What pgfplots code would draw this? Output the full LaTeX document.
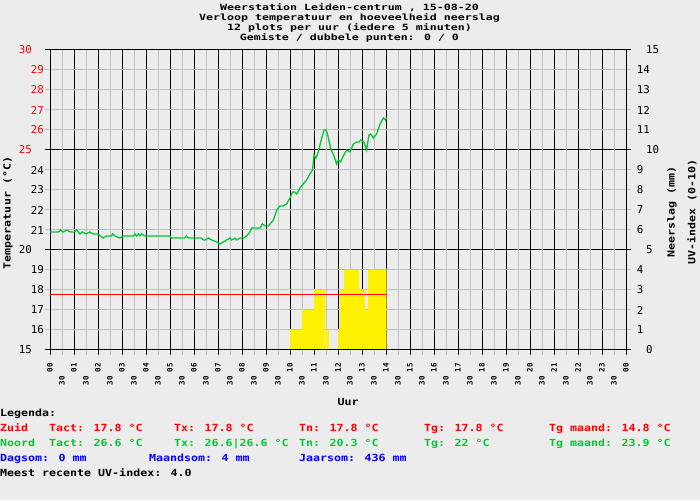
\documentclass[border=0pt]{standalone}
\usepackage{fontspec}
\usepackage{pgfplots}
\pgfplotsset{compat=1.18}
\setmainfont{DejaVu Sans Mono}
\newfontfamily\widea[FakeStretch=1.35]{DejaVu Sans Mono}
\newfontfamily\wideb[FakeStretch=1.187]{DejaVu Sans Mono}
\definecolor{bg}{RGB}{236,236,236}
\definecolor{gridgray}{RGB}{192,192,192}
\definecolor{tgreen}{RGB}{0,200,50}
\definecolor{tblue}{RGB}{0,0,255}
\definecolor{tred}{RGB}{255,0,0}
\newcommand\tf{\widea\fontsize{8.6}{10}\selectfont\bfseries}
\newcommand\lf{\wideb\fontsize{9.8}{11}\selectfont\bfseries}
\newcommand\smf{\fontsize{7.5}{8}\selectfont\bfseries}
\newcommand\bgf{\fontsize{10.8}{11}\selectfont}
\newcommand\hl{30\kern13pt}
\newcommand\bl{\kern9.3pt}
\newcommand\br{\kern12pt}
\begin{document}
\begin{tikzpicture}[x=1pt,y=1pt]
\fill[bg] (0,0) rectangle (700,500);
\begin{axis}[
 at={(50pt,150pt)}, anchor=south west, width=576pt, height=300pt, scale only axis,
 xmin=0,xmax=24,ymin=0,ymax=15,
 axis line style={black,line width=1pt},
 major tick style={black,line width=1pt},
 major tick length=5pt, tick align=outside,
 grid=major, major grid style={black,line width=1pt},
 xtick={0,...,24}, xtick pos=left,
 xticklabels={00,01,02,03,04,05,06,07,08,09,10,11,12,13,14,15,16,17,18,19,20,21,22,23,00},
 xticklabel style={rotate=90,anchor=east,inner sep=0pt,font=\smf},
 xticklabel shift=8pt,
 extra x ticks={0.5,1.5,2.5,3.5,4.5,5.5,6.5,7.5,8.5,9.5,10.5,11.5,12.5,13.5,14.5,15.5,16.5,17.5,18.5,19.5,20.5,21.5,22.5,23.5},
 extra x tick labels={\hl,\hl,\hl,\hl,\hl,\hl,\hl,\hl,\hl,\hl,\hl,\hl,\hl,\hl,\hl,\hl,\hl,\hl,\hl,\hl,\hl,\hl,\hl,\hl},
 extra x tick style={grid=major, major grid style={gridgray,line width=1pt}, major tick style={gridgray,line width=1pt}},
 ytick={0,5,10,15}, ytick pos=both, yticklabel pos=right,
 yticklabels={\bl 0,\bl 5,\bl 10,\bl 15},
 yticklabel style={anchor=west,inner sep=0pt,font=\bgf},
 yticklabel shift=5.7pt,
 extra y ticks={1,2,3,4,6,7,8,9,11,12,13,14},
 extra y tick labels={1,2,3,4,6,7,8,9,11,12,13,14},
 extra y tick style={grid=major, major grid style={gridgray,line width=1pt}, major tick style={gridgray,line width=1pt}, tick label style={font=\smf}},
]
\addplot[fill=yellow, draw=none, const plot mark left] coordinates {
(10.0,1) (10.49,2) (11.0,3) (11.46,0) (11.5,1) (11.62,0) (12.0,1) (12.08,3) (12.25,4) (12.875,3) (13.125,2) (13.25,4) (14.03,4)} \closedcycle;
\end{axis}
\begin{axis}[
 at={(50pt,150pt)}, anchor=south west, width=576pt, height=300pt, scale only axis,
 xmin=0,xmax=24,ymin=15,ymax=30,
 axis line style={black,line width=1pt},
 xtick=\empty, major tick length=0pt, tick align=outside,
 ytick={15,20,25,30}, ytick pos=left, yticklabel pos=left,
 yticklabels={15\br,20\br,\textcolor{tred}{25}\br,\textcolor{tred}{30}\br},
 yticklabel style={anchor=east,inner sep=0pt,font=\bgf},
 yticklabel shift=6pt,
 extra y ticks={16,17,18,19,21,22,23,24,26,27,28,29},
 extra y tick labels={16,17,18,19,21,22,23,24,\textcolor{tred}{26},\textcolor{tred}{27},\textcolor{tred}{28},\textcolor{tred}{29}},
 extra y tick style={tick label style={font=\smf}},
]
\addplot[draw=tred, color=tred, line width=1.3pt, mark=none] coordinates {(0,17.775) (14.03,17.775)};
\addplot[draw=tgreen, line width=1.3pt, mark=none] coordinates {
(0.00,20.9) (0.35,20.9) (0.44,21.0) (0.55,20.9) (0.70,21.0) (0.85,20.9) (1.00,20.9) (1.10,21.0)
(1.25,20.8) (1.35,20.9) (1.50,20.8) (1.65,20.9) (1.80,20.8) (2.00,20.8) (2.22,20.6) (2.36,20.7)
(2.55,20.7) (2.61,20.8) (2.71,20.7) (2.92,20.6) (3.06,20.7) (3.47,20.7) (3.54,20.8) (3.61,20.7)
(3.68,20.8) (3.75,20.7) (3.82,20.8) (3.96,20.7) (5.00,20.7) (5.05,20.6) (5.60,20.6) (5.69,20.7)
(5.76,20.6) (6.30,20.6) (6.39,20.5) (6.46,20.5) (6.60,20.6) (6.74,20.5) (6.94,20.4) (7.08,20.3)
(7.22,20.4) (7.36,20.5) (7.50,20.6) (7.57,20.5) (7.71,20.6) (7.78,20.5) (7.92,20.6) (8.06,20.6)
(8.19,20.7) (8.33,20.9) (8.40,21.1) (8.75,21.1) (8.85,21.3) (8.96,21.2) (9.10,21.2) (9.31,21.5)
(9.45,22.0) (9.58,22.2) (9.72,22.2) (9.86,22.3) (10.00,22.6) (10.11,22.9) (10.20,22.9) (10.28,22.8)
(10.42,23.1) (10.55,23.3) (10.69,23.5) (10.83,23.8) (10.94,24.0) (11.00,24.75) (11.08,24.6) (11.18,24.9)
(11.32,25.6) (11.42,26.0) (11.50,26.0) (11.56,25.8) (11.69,25.1) (11.83,24.7) (11.94,24.3) (12.01,24.5)
(12.11,24.4) (12.22,24.7) (12.36,25.0) (12.50,24.9) (12.64,25.3) (12.78,25.4) (12.89,25.4) (12.94,25.5)
(13.08,25.4) (13.19,25.0) (13.29,25.75) (13.36,25.8) (13.47,25.6) (13.61,25.8) (13.75,26.3) (13.89,26.6)
(13.97,26.5) (14.03,26.6)};
\end{axis}
\begin{scope}[every node/.style={inner sep=0pt}]
\node[anchor=base,font=\tf] at (349.5,489.8) {Weerstation Leiden-centrum , 15-08-20};
\node[anchor=base,font=\tf] at (349.5,479.8) {Verloop temperatuur en hoeveelheid neerslag};
\node[anchor=base,font=\tf] at (349.5,469.8) {12 plots per uur (iedere 5 minuten)};
\node[anchor=base,font=\tf] at (349.5,459.8) {Gemiste / dubbele punten: 0 / 0};
\node[rotate=90,font=\lf] at (8,287) {Temperatuur (°C)};
\node[rotate=90,font=\lf] at (672,288) {Neerslag (mm)};
\node[rotate=90,font=\lf] at (692,288) {UV-index (0-10)};
\node[anchor=base,font=\lf] at (348,94.3) {Uur};
\node[anchor=base west,font=\lf] at (0,84) {Legenda:};
\begin{scope}[every node/.append style={anchor=base west,font=\lf,text=tred}]
\node at (0,69) {Zuid};
\node at (49,69) {Tact: 17.8 °C};
\node at (174,69) {Tx: 17.8 °C};
\node at (299,69) {Tn: 17.8 °C};
\node at (424,69) {Tg: 17.8 °C};
\node at (549,69) {Tg maand: 14.8 °C};
\end{scope}
\begin{scope}[every node/.append style={anchor=base west,font=\lf,text=tgreen}]
\node at (0,54) {Noord};
\node at (49,54) {Tact: 26.6 °C};
\node at (174,54) {Tx: 26.6|26.6 °C};
\node at (299,54) {Tn: 20.3 °C};
\node at (424,54) {Tg: 22 °C};
\node at (549,54) {Tg maand: 23.9 °C};
\end{scope}
\begin{scope}[every node/.append style={anchor=base west,font=\lf,text=tblue}]
\node at (0,39) {Dagsom: 0 mm};
\node at (149,39) {Maandsom: 4 mm};
\node at (299,39) {Jaarsom: 436 mm};
\end{scope}
\node[anchor=base west,font=\lf] at (0,24) {Meest recente UV-index: 4.0};
\end{scope}
\end{tikzpicture}
\end{document}
